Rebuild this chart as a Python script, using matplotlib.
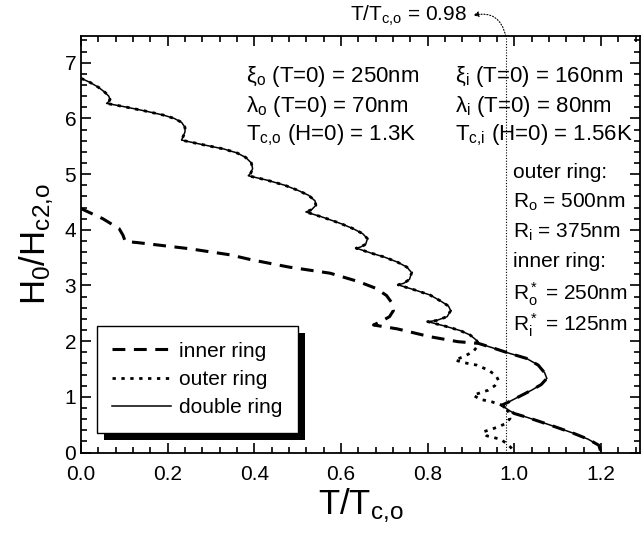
import matplotlib
matplotlib.use('Agg')
import matplotlib.pyplot as plt
import numpy as np
from matplotlib.patches import Rectangle
from matplotlib.ticker import MultipleLocator

plt.rcParams['font.family'] = ['Liberation Sans', 'DejaVu Sans']
plt.rcParams['mathtext.fontset'] = 'custom'
plt.rcParams['mathtext.rm'] = 'Liberation Sans'
plt.rcParams['mathtext.it'] = 'Liberation Sans:italic'
plt.rcParams['mathtext.bf'] = 'Liberation Sans:bold'

# double ring (solid)
t_double = [0.000, 0.020, 0.040, 0.055, 0.064, 0.067, 0.064, 0.059,
            0.100, 0.150, 0.190, 0.215, 0.232, 0.240, 0.240, 0.236, 0.232,
            0.280, 0.330, 0.360, 0.380, 0.393, 0.396, 0.392, 0.386,
            0.430, 0.470, 0.500, 0.525, 0.540, 0.542, 0.532, 0.519,
            0.560, 0.600, 0.628, 0.650, 0.661, 0.657, 0.645, 0.635,
            0.670, 0.700, 0.730, 0.752, 0.763, 0.758, 0.745, 0.732,
            0.770, 0.805, 0.830, 0.848, 0.853, 0.845, 0.820, 0.800,
            0.840, 0.875, 0.898, 0.912, 0.917,
            0.950, 0.985, 1.028, 1.055, 1.070, 1.075, 1.062, 1.040, 1.010, 0.985, 0.971,
            0.985, 1.000, 1.030, 1.080, 1.135, 1.170, 1.195, 1.200]
h_double = [6.72, 6.65, 6.56, 6.47, 6.40, 6.34, 6.30, 6.27,
            6.21, 6.13, 6.06, 6.00, 5.93, 5.84, 5.76, 5.68, 5.61,
            5.53, 5.45, 5.38, 5.30, 5.20, 5.10, 5.02, 4.97,
            4.89, 4.80, 4.71, 4.62, 4.52, 4.44, 4.36, 4.32,
            4.22, 4.11, 4.02, 3.93, 3.84, 3.74, 3.69, 3.67,
            3.58, 3.51, 3.42, 3.33, 3.23, 3.11, 3.04, 3.01,
            2.92, 2.83, 2.72, 2.63, 2.55, 2.44, 2.37, 2.35,
            2.27, 2.19, 2.11, 2.02, 1.96,
            1.88, 1.79, 1.69, 1.57, 1.43, 1.33, 1.22, 1.12, 1.00, 0.90, 0.85,
            0.77, 0.70, 0.63, 0.50, 0.35, 0.24, 0.13, 0.00]

# outer ring (dotted): follows double ring at high field, then its own scallops
t_outer = t_double[:62] + [0.912, 0.905, 0.882, 0.863, 0.886, 0.913, 0.940, 0.958, 0.963,
                           0.955, 0.940, 0.905, 0.921, 0.948, 0.971, 0.985, 0.990, 0.980,
                           0.963, 0.928, 0.936, 0.967, 0.985, 0.993, 1.000]
h_outer = h_double[:62] + [1.88, 1.81, 1.72, 1.66, 1.61, 1.57, 1.48, 1.38, 1.30,
                           1.20, 1.12, 1.03, 0.955, 0.91, 0.85, 0.75, 0.61, 0.52,
                           0.46, 0.37, 0.30, 0.24, 0.15, 0.08, 0.00]

# inner ring (dashed): joins double ring below H0/Hc2,o ~ 2
t_inner = [0.000, 0.050, 0.088, 0.097, 0.102, 0.130, 0.250, 0.344, 0.394,
           0.480, 0.575, 0.640, 0.680, 0.705, 0.718, 0.721, 0.712, 0.694, 0.675,
           0.730, 0.805, 0.870] + t_double[61:]
h_inner = [4.38, 4.20, 4.02, 3.90, 3.79, 3.77, 3.66, 3.55, 3.46,
           3.33, 3.22, 3.07, 2.95, 2.82, 2.68, 2.55, 2.44, 2.36, 2.29,
           2.22, 2.08, 1.99] + h_double[61:]

t_mark = 0.98

fig = plt.figure(figsize=(6.44, 5.35), dpi=100)
ax = fig.add_axes([0.1258, 0.1542, 0.868, 0.7785])

ax.plot(t_inner, h_inner, color='k', lw=2.2, dashes=(4.2, 2.8), label='inner ring')
ax.plot(t_outer, h_outer, color='k', lw=2.0, dashes=(1.2, 2.0), label='outer ring')
ax.plot(t_double, h_double, color='k', lw=1.1, label='double ring')
ax.axvline(t_mark, color='k', lw=0.8, dashes=(1, 1.5))

ax.set_xlim(0, 1.29)
ax.set_ylim(0, 7.48)
ax.xaxis.set_major_locator(MultipleLocator(0.2))
ax.xaxis.set_minor_locator(MultipleLocator(0.04))
ax.yaxis.set_major_locator(MultipleLocator(1))
ax.yaxis.set_minor_locator(MultipleLocator(0.2))
ax.xaxis.set_major_formatter(matplotlib.ticker.FormatStrFormatter('%.1f'))
ax.tick_params(which='both', direction='in', top=True, right=True, width=1.2, labelsize=15)
ax.tick_params(axis='x', which='major', pad=9)
ax.tick_params(which='major', length=7)
ax.tick_params(which='minor', length=4)
for s in ax.spines.values():
    s.set_linewidth(1.3)

ax.set_xlabel(r'T/T$_\mathrm{c{,}o}$', fontsize=25, labelpad=2)
ax.set_ylabel(r'H$_0$/H$_\mathrm{c2{,}o}$', fontsize=25, labelpad=6)

fs = 16
ax.text(0.381, 6.66, r'ξ$_\mathrm{o}$ (T=0) = 250nm', fontsize=fs)
ax.text(0.381, 6.12, r'λ$_\mathrm{o}$ (T=0) = 70nm', fontsize=fs)
ax.text(0.381, 5.61, r'T$_\mathrm{c{,}o}$ (H=0) = 1.3K', fontsize=fs)
ax.text(0.863, 6.66, r'ξ$_\mathrm{i}$ (T=0) = 160nm', fontsize=fs)
ax.text(0.863, 6.12, r'λ$_\mathrm{i}$ (T=0) = 80nm', fontsize=fs)
ax.text(0.863, 5.61, r'T$_\mathrm{c{,}i}$ (H=0) = 1.56K', fontsize=fs)
fs2 = 15
ax.text(0.998, 4.93, 'outer ring:', fontsize=fs2)
ax.text(0.998, 4.40, r'R$_\mathrm{o}$ = 500nm', fontsize=fs2)
ax.text(0.998, 3.86, r'R$_\mathrm{i}$ = 375nm', fontsize=fs2)
ax.text(0.998, 3.34, 'inner ring:', fontsize=fs2)
ax.text(0.998, 2.74, r'R$^*_\mathrm{o}$ = 250nm', fontsize=fs2)
ax.text(0.998, 2.17, r'R$^*_\mathrm{i}$ = 125nm', fontsize=fs2)

ax.text(0.891, 7.85, r'T/T$_\mathrm{c{,}o}$ = 0.98', fontsize=15, ha='right', va='center', clip_on=False)
ax.annotate('', xy=(0.905, 7.85), xytext=(t_mark, 7.48), annotation_clip=False,
            arrowprops=dict(arrowstyle='-|>', color='k', lw=0.8, ls=':',
                            connectionstyle='arc3,rad=0.5', mutation_scale=8,
                            shrinkA=0, shrinkB=0))

leg = ax.legend(loc='lower left', bbox_to_anchor=(0.028, 0.047), borderaxespad=0,
                fontsize=15, handlelength=2.8, fancybox=False, framealpha=1,
                edgecolor='k', borderpad=0.75, labelspacing=0.45, handletextpad=0.4)
leg.get_frame().set_linewidth(1.0)

fig.canvas.draw()
bb = leg.get_frame().get_window_extent(fig.canvas.get_renderer())
bb = bb.transformed(fig.transFigure.inverted())
dx, dy = 7 / 644, 7 / 535
shadow = Rectangle((bb.x0 + dx, bb.y0 - dy), bb.width, bb.height,
                   transform=fig.transFigure, facecolor='k', edgecolor='none',
                   zorder=leg.get_zorder() - 0.1, clip_on=False)
ax.add_artist(shadow)

fig.savefig('out.png', dpi=100)
